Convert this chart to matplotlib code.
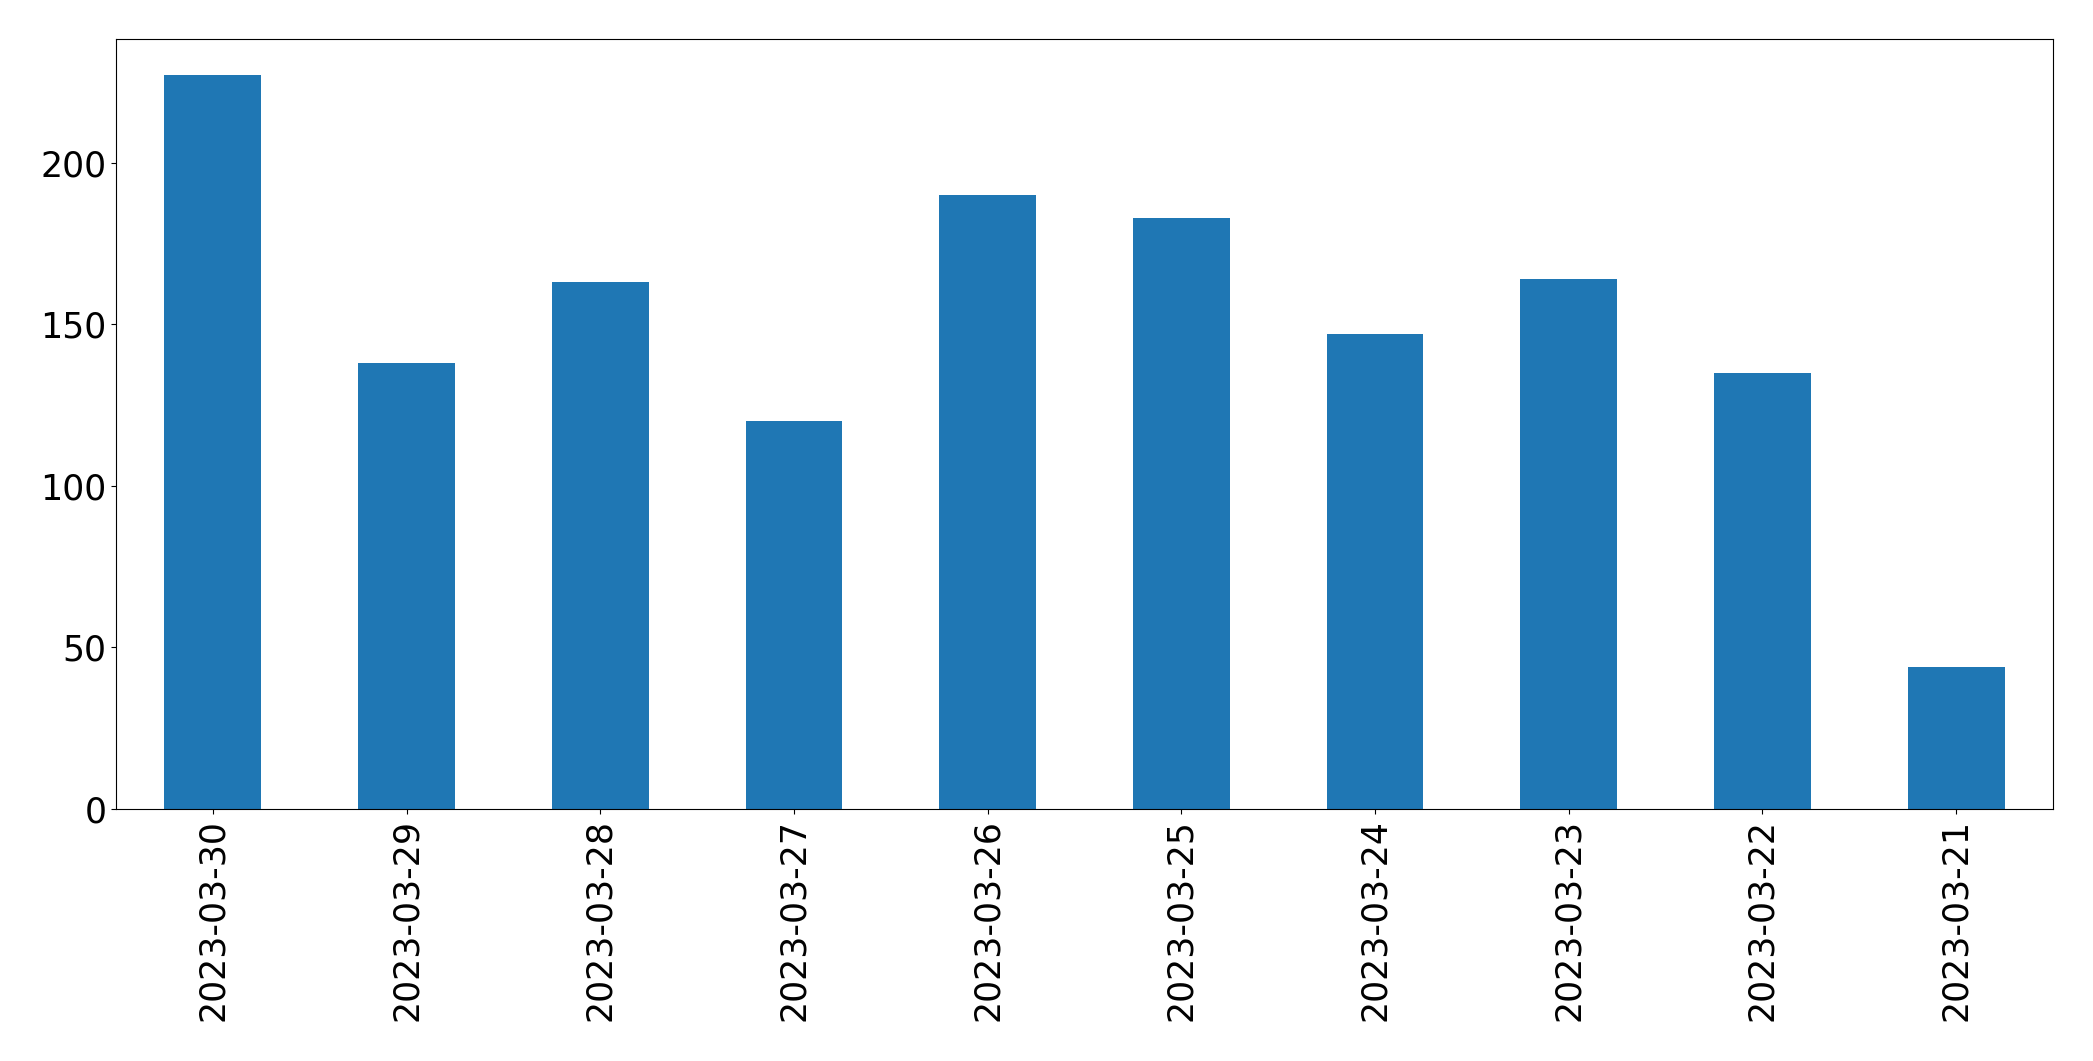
import matplotlib
matplotlib.use("Agg")
import matplotlib.pyplot as plt
import numpy as np

dates = ["2023-03-30", "2023-03-29", "2023-03-28", "2023-03-27", "2023-03-26",
         "2023-03-25", "2023-03-24", "2023-03-23", "2023-03-22", "2023-03-21"]
counts = [227, 138, 163, 120, 190, 183, 147, 164, 135, 44]

fig = plt.figure(figsize=(20.93, 10.61), dpi=100)
ax = fig.add_axes([116/2093, 1 - 809/1061, (2053 - 116)/2093, (809 - 38.7)/1061])
x = np.arange(len(dates))
ax.bar(x, counts, width=0.5, color="#1f77b4")
ax.set_xlim(-0.5, len(dates) - 0.5)
ax.set_xticks(x)
ax.set_xticklabels(dates, rotation=90, fontsize=25)
ax.tick_params(axis="y", labelsize=25)
fig.savefig("out.png", dpi=100)
